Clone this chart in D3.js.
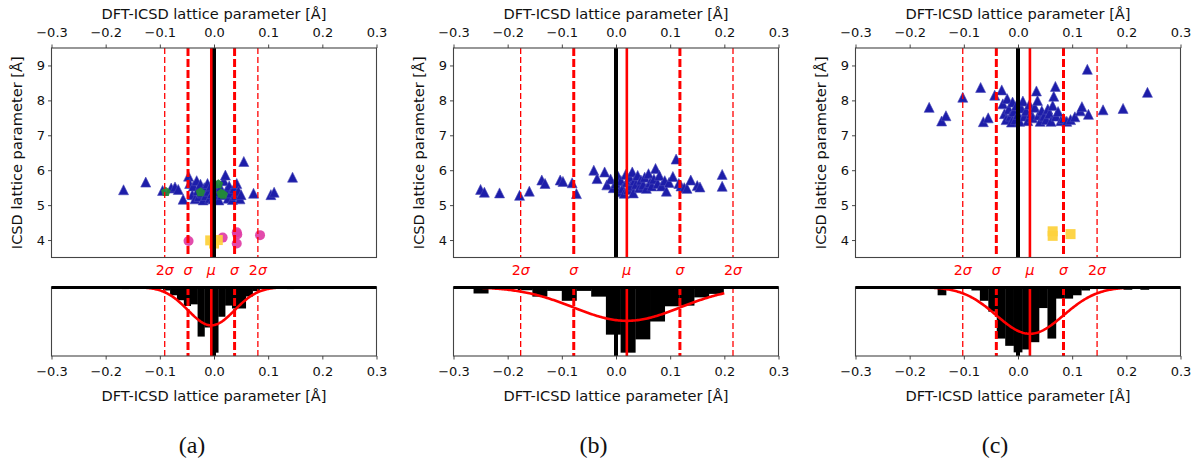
<!DOCTYPE html>
<html><head><meta charset="utf-8">
<script src="https://cdn.jsdelivr.net/npm/d3@7"></script>
<style>body{margin:0;background:#fff}svg{display:block}text{font-family:"DejaVu Sans",sans-serif}text.cap{font-family:"Liberation Serif",serif}</style>
</head><body><svg id="c" width="1199" height="464"></svg>
<script>
// ---------------- data ----------------
const panelLabels = ["(a)", "(b)", "(c)"];
const muVals = [-0.005, 0.020, 0.022];
const sigmaVals = [0.043, 0.098, 0.062];
const xTicks = [-0.3, -0.2, -0.1, 0.0, 0.1, 0.2, 0.3];
const yTicks = [4, 5, 6, 7, 8, 9];
const sigmaLabels = ["2σ", "σ", "μ", "σ", "2σ"];
const xTitle = "DFT-ICSD lattice parameter [Å]";
const yTitle = "ICSD lattice parameter [Å]";

const triA = [[-0.167,5.44],[-0.126,5.66],[-0.095,5.42],[-0.079,5.49],[-0.072,5.52],[-0.066,5.45],[-0.057,5.17],[-0.047,5.83],[-0.045,5.62],[-0.040,5.30],[-0.038,5.55],[-0.035,5.18],[-0.032,5.70],[-0.030,5.42],[-0.028,5.25],[-0.025,5.60],[-0.022,5.35],[-0.020,5.15],[-0.018,5.50],[-0.015,5.28],[-0.012,5.62],[-0.010,5.40],[-0.008,5.20],[-0.006,5.55],[-0.004,5.33],[-0.002,5.18],[0.000,5.45],[0.002,5.60],[0.004,5.25],[0.006,5.38],[0.009,5.15],[0.012,5.50],[0.015,5.30],[0.018,5.70],[0.021,5.86],[0.023,5.42],[0.026,5.20],[0.028,5.55],[0.031,5.35],[0.034,5.16],[0.037,5.48],[0.040,5.28],[0.042,5.62],[0.045,5.40],[0.048,5.18],[0.050,5.30],[0.055,6.25],[0.073,5.34],[0.105,5.30],[0.111,5.37],[0.145,5.80]];
const greenA = [[-0.089,5.38],[-0.025,5.37],[0.008,5.60],[0.013,5.33],[0.017,5.30]];
const pinkA = [[-0.047,3.97],[0.016,4.07],[0.042,4.22],[0.043,4.16],[0.042,3.90],[0.085,4.14]];
const yellowA = [[-0.007,3.99],[0.007,4.00],[0.000,3.90]];

const triB = [[-0.250,5.45],[-0.243,5.37],[-0.215,5.35],[-0.178,5.28],[-0.160,5.40],[-0.137,5.72],[-0.131,5.62],[-0.103,5.72],[-0.098,5.68],[-0.081,5.64],[-0.073,5.33],[-0.041,6.00],[-0.035,5.76],[-0.021,5.95],[-0.017,5.58],[-0.010,5.75],[-0.005,5.50],[0.000,5.62],[0.004,5.82],[0.006,5.38],[0.009,5.70],[0.012,5.48],[0.015,5.34],[0.018,5.88],[0.020,5.66],[0.022,5.45],[0.025,5.80],[0.027,5.55],[0.030,5.95],[0.032,5.35],[0.034,5.70],[0.037,5.60],[0.040,5.85],[0.043,5.50],[0.046,5.72],[0.050,5.58],[0.053,5.80],[0.056,5.48],[0.060,5.90],[0.063,5.65],[0.066,5.55],[0.070,5.75],[0.073,6.05],[0.077,5.62],[0.080,5.85],[0.084,5.55],[0.090,5.70],[0.093,5.40],[0.098,5.65],[0.105,5.82],[0.111,6.32],[0.116,5.62],[0.120,5.55],[0.126,5.50],[0.131,5.48],[0.138,5.72],[0.150,5.56],[0.155,5.52],[0.196,5.88],[0.196,5.54]];

const triC = [[-0.164,7.80],[-0.141,7.41],[-0.133,7.56],[-0.102,8.09],[-0.069,8.37],[-0.064,7.39],[-0.055,7.50],[-0.043,8.15],[-0.030,8.30],[-0.028,7.90],[-0.025,7.62],[-0.022,7.45],[-0.020,8.05],[-0.017,7.75],[-0.014,7.55],[-0.012,7.38],[-0.010,7.95],[-0.008,7.68],[-0.005,7.45],[-0.003,7.85],[0.000,7.60],[0.003,7.40],[0.006,7.78],[0.009,7.98],[0.012,7.55],[0.015,7.70],[0.018,7.42],[0.021,7.88],[0.024,7.62],[0.027,7.50],[0.031,7.80],[0.034,8.27],[0.036,8.00],[0.038,7.58],[0.041,7.40],[0.044,7.70],[0.048,7.55],[0.052,7.45],[0.055,7.75],[0.058,7.62],[0.061,7.40],[0.064,7.85],[0.066,8.12],[0.069,8.40],[0.070,7.55],[0.074,7.68],[0.079,7.42],[0.084,7.48],[0.090,7.40],[0.097,7.45],[0.105,7.53],[0.115,7.70],[0.118,7.82],[0.128,8.89],[0.130,7.60],[0.157,7.73],[0.194,7.77],[0.239,8.23]];
const yellowC = [[0.064,4.25],[0.064,4.12],[0.097,4.17]];

// histograms (density per bin), bin start and width per panel
const histStart = [-0.170, -0.263, -0.164];
const histWidth = [0.0127, 0.02715, 0.0156];
const histA = [0.5,0.17,0.17,0.33,0.33,0.33,0.84,2.0,3.2,4.6,4.2,12.0,9.8,15.9,7.2,4.5,5.2,5.2,2.3,1.0,0.33,0.5,0.33,0.33,0.5];
const histB = [0.78,0.17,0.17,0.39,1.16,0.47,1.66,0.47,1.16,5.73,7.9,6.3,4.15,2.32,2.24,1.25,0.83];
const histC = [0.28,1.14,0.19,0.0,0.19,0.48,1.9,3.4,7.1,8.1,9.0,8.6,7.6,2.9,7.1,1.6,1.6,1.14,0.48,0.28,0.19,0.1,0.19,0.38,0.1,0.38];
const histMax = [16.7, 8.3, 9.5];
const curveRange = [[-0.170, 0.148], [-0.300, 0.200], [-0.164, 0.242]];

// ---------------- drawing ----------------
const svg = d3.select("#c");
const triData = [triA, triB, triC];
const greenData = [greenA, [], []];
const pinkData = [pinkA, [], []];
const yellowData = [yellowA, [], yellowC];
const histData = [histA, histB, histC];

const TOP = 48, BOT = 257.5, HTOP = 287, HBOT = 356;
const TICK_FS = 13, TITLE_FS = 14.6;
const fmt = d3.format(".1f");
const triPath = "M0,-5L5,5L-5,5Z";
const pentPath = (() => { const r = 5; let p = ""; for (let k = 0; k < 5; k++) { const a = -Math.PI/2 + k*2*Math.PI/5; p += (k ? "L" : "M") + (r*Math.cos(a)).toFixed(2) + "," + (r*Math.sin(a)).toFixed(2); } return p + "Z"; })();

function styleAxis(g) {
  g.selectAll(".domain").remove();
  g.selectAll(".tick line").attr("stroke", "#333").attr("stroke-width", 0.9);
  g.selectAll(".tick text").attr("font-size", TICK_FS).attr("fill", "#111");
}

panelLabels.forEach((lab, i) => {
  const left = 51.5 + 402 * i, right = left + 325;
  const x = d3.scaleLinear().domain([-0.3, 0.3]).range([left, right]);
  const y = d3.scaleLinear().domain([3.5, 9.5]).range([BOT, TOP]);
  const yh = d3.scaleLinear().domain([0, histMax[i]]).range([HTOP, HBOT]);
  const mu = muVals[i], sg = sigmaVals[i];
  const lines = [
    {v: mu - 2*sg, w: 1.3, d: "6,3"},
    {v: mu - sg, w: 3, d: "8,3"},
    {v: mu, w: 2.6, d: null},
    {v: mu + sg, w: 3, d: "8,3"},
    {v: mu + 2*sg, w: 1.3, d: "6,3"}
  ];

  svg.append("clipPath").attr("id", "cs" + i).append("rect").attr("x", left).attr("y", TOP).attr("width", 325).attr("height", BOT - TOP);
  svg.append("clipPath").attr("id", "ch" + i).append("rect").attr("x", left).attr("y", HTOP).attr("width", 325).attr("height", HBOT - HTOP);

  // ---- scatter panel ----
  const gs = svg.append("g").attr("clip-path", `url(#cs${i})`);
  gs.selectAll("path.tri").data(triData[i]).join("path").attr("class", "tri")
    .attr("d", triPath).attr("transform", d => `translate(${x(d[0])},${y(d[1])})`)
    .attr("fill", "#1d1da9").attr("stroke", "#4a4ab8").attr("stroke-width", 0.6);
  gs.selectAll("path.pent").data(greenData[i]).join("path").attr("class", "pent")
    .attr("d", pentPath).attr("transform", d => `translate(${x(d[0])},${y(d[1])})`)
    .attr("fill", "#23893a").attr("opacity", 0.95);
  gs.selectAll("circle.pink").data(pinkData[i]).join("circle").attr("class", "pink")
    .attr("cx", d => x(d[0])).attr("cy", d => y(d[1])).attr("r", 5)
    .attr("fill", "#e03ca4").attr("opacity", 0.92);
  gs.selectAll("rect.yel").data(yellowData[i]).join("rect").attr("class", "yel")
    .attr("x", d => x(d[0]) - 5).attr("y", d => y(d[1]) - 5).attr("width", 10).attr("height", 10)
    .attr("fill", "#fdd23e").attr("opacity", 0.95);
  gs.append("line").attr("x1", x(0)).attr("x2", x(0)).attr("y1", TOP).attr("y2", BOT).attr("stroke", "#000").attr("stroke-width", 4);
  lines.forEach(L => {
    gs.append("line").attr("x1", x(L.v)).attr("x2", x(L.v)).attr("y1", TOP).attr("y2", BOT)
      .attr("stroke", "#f00").attr("stroke-width", L.w).attr("stroke-dasharray", L.d);
  });
  svg.append("rect").attr("x", left).attr("y", TOP).attr("width", 325).attr("height", BOT - TOP)
    .attr("fill", "none").attr("stroke", "#444").attr("stroke-width", 1.1);

  // top axis
  const gTop = svg.append("g").attr("transform", `translate(0,${TOP})`)
    .call(d3.axisTop(x).tickValues(xTicks).tickFormat(fmt).tickSize(3.5).tickPadding(8));
  styleAxis(gTop);
  svg.append("text").attr("x", (left + right) / 2).attr("y", 18.5).attr("text-anchor", "middle")
    .attr("font-size", TITLE_FS).attr("fill", "#111").text(xTitle);
  // left axis
  const gLeft = svg.append("g").attr("transform", `translate(${left},0)`)
    .call(d3.axisLeft(y).tickValues(yTicks).tickFormat(d3.format("d")).tickSize(3.5).tickPadding(3));
  styleAxis(gLeft);
  svg.append("text").attr("transform", `translate(${left - 29.5},${(TOP + BOT) / 2}) rotate(-90)`)
    .attr("text-anchor", "middle").attr("font-size", TITLE_FS).attr("fill", "#111").text(yTitle);

  // sigma labels
  lines.forEach((L, k) => {
    const t = svg.append("text").attr("x", x(L.v)).attr("y", 275).attr("text-anchor", "middle")
      .attr("font-size", 14.2).attr("fill", "#f00");
    const s = sigmaLabels[k];
    if (s.startsWith("2")) { t.append("tspan").text("2"); t.append("tspan").attr("font-style", "italic").text(s.slice(1)); }
    else t.append("tspan").attr("font-style", "italic").text(s);
  });

  // ---- histogram panel ----
  const gh = svg.append("g").attr("clip-path", `url(#ch${i})`);
  const bins = histData[i].map((v, k) => ({x0: histStart[i] + k * histWidth[i], x1: histStart[i] + (k + 1) * histWidth[i], v}));
  gh.selectAll("rect.bar").data(bins).join("rect").attr("class", "bar")
    .attr("x", d => x(d.x0)).attr("width", d => x(d.x1) - x(d.x0) + 0.3)
    .attr("y", HTOP).attr("height", d => yh(d.v) - HTOP).attr("fill", "#000");
  gh.append("line").attr("x1", x(0)).attr("x2", x(0)).attr("y1", HTOP).attr("y2", HBOT).attr("stroke", "#000").attr("stroke-width", 4);
  lines.forEach(L => {
    gh.append("line").attr("x1", x(L.v)).attr("x2", x(L.v)).attr("y1", HTOP).attr("y2", HBOT)
      .attr("stroke", "#f00").attr("stroke-width", L.w).attr("stroke-dasharray", L.d);
  });
  const xs = d3.range(0, 201).map(k => curveRange[i][0] + (curveRange[i][1] - curveRange[i][0]) * k / 200);
  const pdf = v => Math.exp(-0.5 * ((v - mu) / sg) ** 2) / (sg * Math.sqrt(2 * Math.PI));
  gh.append("path").datum(xs).attr("d", d3.line().x(v => x(v)).y(v => yh(pdf(v))))
    .attr("fill", "none").attr("stroke", "#f00").attr("stroke-width", 2.6);
  svg.append("rect").attr("x", left).attr("y", HTOP).attr("width", 325).attr("height", HBOT - HTOP)
    .attr("fill", "none").attr("stroke", "#444").attr("stroke-width", 1.1);
  svg.append("line").attr("x1", left).attr("x2", right).attr("y1", HTOP + 0.5).attr("y2", HTOP + 0.5)
    .attr("stroke", "#000").attr("stroke-width", 3);
  const gBot = svg.append("g").attr("transform", `translate(0,${HBOT})`)
    .call(d3.axisBottom(x).tickValues(xTicks).tickFormat(fmt).tickSize(3.5).tickPadding(7.5));
  styleAxis(gBot);
  svg.append("text").attr("x", (left + right) / 2).attr("y", 400.5).attr("text-anchor", "middle")
    .attr("font-size", TITLE_FS).attr("fill", "#111").text(xTitle);

  // caption
  svg.append("text").attr("class", "cap").attr("x", 192 + 401.5 * i).attr("y", 452.5).attr("text-anchor", "middle")
    .attr("font-size", 24).attr("fill", "#111").text(lab);
});
</script></body></html>
